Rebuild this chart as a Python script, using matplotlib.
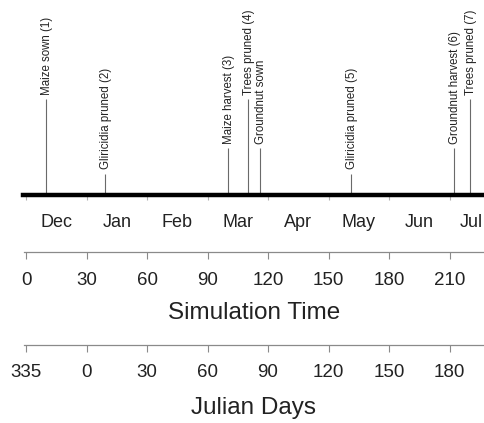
import matplotlib
matplotlib.use("Agg")
import matplotlib.pyplot as plt

plt.rcParams['font.family'] = ['Liberation Sans', 'DejaVu Sans']

# management events, in days of simulation (day 0 = 1 December)
events = ["Maize sown (1)", "Gliricidia pruned (2)", "Maize harvest (3)", "Trees pruned (4)",
          "Groundnut sown", "Gliricidia pruned (5)", "Groundnut harvest (6)", "Trees pruned (7)"]
event_days = [10, 39, 100, 110, 116, 161, 212, 220]
stem_heights = [4.9, 1.1, 2.4, 4.9, 2.4, 1.1, 2.4, 4.9]

months = ["Dec", "Jan", "Feb", "Mar", "Apr", "May", "Jun", "Jul"]
month_starts = [0, 30, 60, 90, 120, 150, 180, 210]
month_label_pos = [15, 45, 75, 105, 135, 165, 195, 221]
sim_ticks = [0, 30, 60, 90, 120, 150, 180, 210]
julian_labels = [335, 0, 30, 60, 90, 120, 150, 180]

W, H = 485, 423
xlim = (-12.9, 227.6)
grey = '#8a8a8a'
ink = '#222222'

fig = plt.figure(figsize=(W / 100, H / 100), dpi=100)

# event timeline with month axis
ax = fig.add_axes([0, 1 - 195 / H, 1, 195 / H])
ax.set_xlim(*xlim)
ax.set_ylim(0, 10)
ax.patch.set_alpha(0)
for s in ['top', 'left', 'right']:
    ax.spines[s].set_visible(False)
ax.spines['bottom'].set_linewidth(3.2)
ax.spines['bottom'].set_color('black')
ax.spines['bottom'].set_bounds(-1.5, 240)
ax.set_yticks([])
ax.set_xticks(month_starts)
ax.set_xticklabels([])
ax.tick_params(axis='x', which='major', length=3.5, width=0.8, color='#b0b0b0')
ax.set_xticks(month_label_pos, minor=True)
ax.set_xticklabels(months, minor=True)
ax.tick_params(axis='x', which='minor', length=0, pad=14, labelsize=13, labelcolor=ink)

ax.vlines(event_days, 0, stem_heights, color='#6a6a6a', lw=0.8)
for name, d, h in zip(events, event_days, stem_heights):
    ax.annotate(name, (d, h), xytext=(0.8, 3), textcoords='offset points',
                rotation=90, ha='center', va='bottom', fontsize=8.3, color=ink)


def time_axis(y_px, ticklabels, title, pad, labelpad):
    a = fig.add_axes([0, 1 - y_px / H, 1, 0.0005])
    a.set_xlim(*xlim)
    a.patch.set_alpha(0)
    for s in ['top', 'left', 'right']:
        a.spines[s].set_visible(False)
    a.spines['bottom'].set_color(grey)
    a.spines['bottom'].set_linewidth(0.9)
    a.spines['bottom'].set_bounds(-1, 240)
    a.set_yticks([])
    a.set_xticks(sim_ticks)
    a.set_xticklabels(ticklabels)
    a.tick_params(axis='x', length=5, width=0.8, color=grey, pad=pad,
                  labelsize=13.5, labelcolor=ink)
    a.set_xlabel(title, fontsize=17.5, color=ink, labelpad=labelpad, x=254 / W)
    return a


time_axis(252, sim_ticks, "Simulation Time", 9.5, 9)
time_axis(345, julian_labels, "Julian Days", 8.5, 12)

fig.savefig("out.png", dpi=100)
